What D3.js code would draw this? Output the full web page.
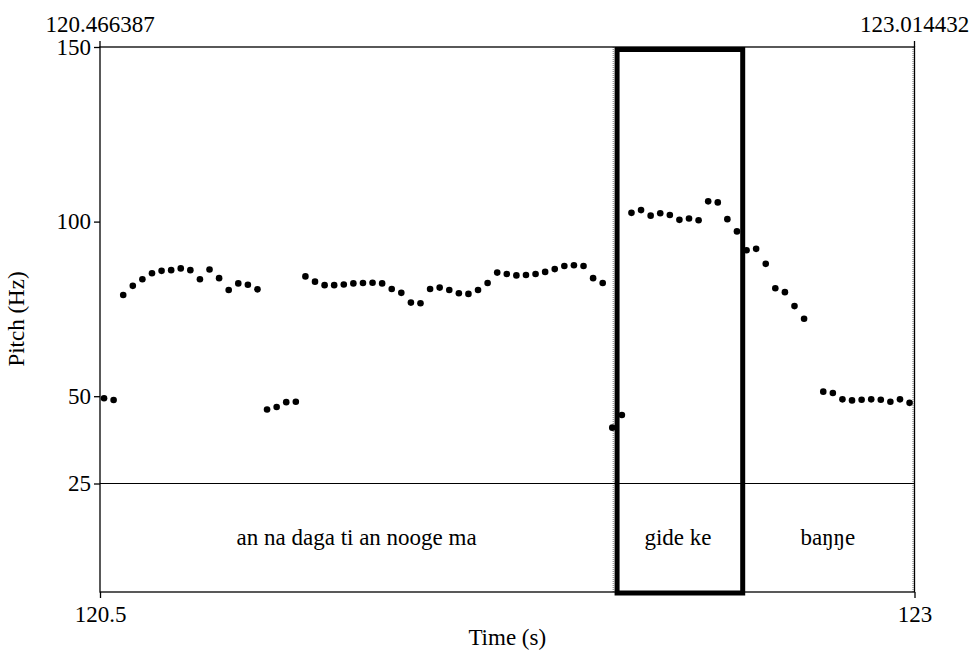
<!DOCTYPE html>
<html>
<head>
<meta charset="utf-8">
<script src="https://cdn.jsdelivr.net/npm/d3@7"></script>
<style>
  html, body { margin: 0; padding: 0; background: #fff; }
  svg { display: block; }
</style>
</head>
<body>
<svg id="chart" width="973" height="653"></svg>
<script>
// Analysis window (seconds)
const windowStart = 120.466387;
const windowEnd = 123.014432;

// Pitch track frames (0.03 s step, unvoiced frames omitted)
const frameTimes = [
  120.479, 120.509, 120.539, 120.569, 120.599, 120.629, 120.659, 120.689, 120.719, 120.749,
  120.779, 120.809, 120.839, 120.869, 120.899, 120.929, 120.959, 120.989, 121.019, 121.049,
  121.079, 121.109, 121.139, 121.169, 121.199, 121.229, 121.259, 121.289, 121.319, 121.349,
  121.379, 121.409, 121.439, 121.469, 121.499, 121.529, 121.559, 121.589, 121.619, 121.649,
  121.679, 121.709, 121.739, 121.769, 121.799, 121.829, 121.859, 121.889, 121.919, 121.949,
  121.979, 122.009, 122.039, 122.069, 122.099, 122.129, 122.159, 122.189, 122.219, 122.249,
  122.279, 122.309, 122.339, 122.369, 122.399, 122.429, 122.459, 122.489, 122.519, 122.549,
  122.579, 122.609, 122.639, 122.669,
  122.729, 122.759, 122.789, 122.819, 122.849, 122.879, 122.909, 122.939, 122.969, 122.999
];
const pitchHz = [
  49.4, 48.9, 79.0, 81.6, 83.5, 85.2, 85.9, 86.1, 86.6, 86.1,
  83.5, 86.3, 83.8, 80.4, 82.3, 81.9, 80.6, 46.2, 46.9, 48.3,
  48.4, 84.3, 82.8, 81.8, 81.8, 82.0, 82.3, 82.4, 82.5, 82.3,
  80.7, 79.6, 76.8, 76.6, 80.7, 81.1, 80.4, 79.5, 79.3, 80.4,
  82.4, 85.4, 85.0, 84.6, 84.7, 85.0, 85.6, 86.4, 87.3, 87.5,
  87.3, 83.8, 82.4, 41.0, 44.6, 102.5, 103.3, 101.7, 102.4, 101.9,
  100.5, 100.9, 100.4, 105.8, 105.5, 100.7, 97.2, 91.8, 92.2, 87.9,
  80.9, 79.8, 75.8, 72.2,
  51.3, 50.9, 49.1, 48.8, 49.0, 49.1, 49.0, 48.4, 49.1, 48.1
];

// Pitch axis
const pitchTicks = [25, 50, 100, 150];
const pitchMin = 25, pitchMax = 150;

// Bottom time axis labels
const timeAxisLabels = [120.5, 123];

// Text tier intervals
const tierLabels = ["an na daga ti an nooge ma", "gide ke", "ba\u014B\u014Be"];
const tierStarts = [120.466387, 122.072, 122.477];
const tierEnds = [122.072, 122.477, 123.0098];

// Highlighted stretch
const highlightStart = 122.084;
const highlightEnd = 122.477;

const serif = "'Liberation Serif'";
const svg = d3.select("#chart");
const plotLeft = 100, plotRight = 914.5, plotTop = 47, plotBottom = 592;
const tierTop = 483.5;
const fontSize = 23;

const x = d3.scaleLinear().domain([windowStart, windowEnd]).range([plotLeft, plotRight]);
const y = d3.scaleLinear().domain([pitchMin, pitchMax]).range([tierTop, plotTop]);
const xAxisScale = d3.scaleLinear().domain([timeAxisLabels[0], timeAxisLabels[1]]).range([plotLeft, plotRight]);

function styleText(sel) {
  sel.attr("font-family", null)
    .style("font-family", serif)
    .style("font-size", fontSize + "px")
    .attr("fill", "#000");
}

// Tier boundaries (dotted)
svg.append("g")
  .selectAll("line")
  .data([tierEnds[0], tierEnds[2]])
  .join("line")
  .attr("x1", d => x(d)).attr("x2", d => x(d))
  .attr("y1", plotTop).attr("y2", plotBottom)
  .attr("stroke", "#888").attr("stroke-width", 1.2)
  .attr("stroke-dasharray", "1,1");

// Frame
svg.append("rect")
  .attr("x", plotLeft).attr("y", plotTop)
  .attr("width", plotRight - plotLeft).attr("height", plotBottom - plotTop)
  .attr("fill", "none").attr("stroke", "#000").attr("stroke-width", 1.3);

// Line separating pitch area from text tier
svg.append("line")
  .attr("x1", plotLeft).attr("x2", plotRight)
  .attr("y1", y(pitchMin)).attr("y2", y(pitchMin))
  .attr("stroke", "#000").attr("stroke-width", 1);

// Left pitch axis
const yAxis = d3.axisLeft(y).tickValues(pitchTicks).tickSize(6).tickPadding(3).tickFormat(d3.format("d"));
const gy = svg.append("g").attr("transform", `translate(${plotLeft},0)`).call(yAxis);
gy.attr("font-family", null).attr("font-size", null);
gy.select(".domain").remove();
gy.selectAll("line").attr("stroke", "#000").attr("stroke-width", 1.3);
gy.selectAll("text").call(styleText);

// Bottom time axis
const xAxis = d3.axisBottom(xAxisScale).tickValues(timeAxisLabels).tickSize(6).tickPadding(8)
  .tickFormat(d => String(d));
const gx = svg.append("g").attr("transform", `translate(0,${plotBottom})`).call(xAxis);
gx.attr("font-family", null).attr("font-size", null);
gx.select(".domain").remove();
gx.selectAll("line").attr("stroke", "#000").attr("stroke-width", 1.3);
gx.selectAll("text").call(styleText);

// Top window edge marks and labels
const topMarks = [windowStart, windowEnd];
svg.append("g")
  .selectAll("line")
  .data(topMarks)
  .join("line")
  .attr("x1", d => x(d)).attr("x2", d => x(d))
  .attr("y1", plotTop - 6).attr("y2", plotTop)
  .attr("stroke", "#000").attr("stroke-width", 1.3);
svg.append("g")
  .selectAll("text")
  .data(topMarks)
  .join("text")
  .attr("x", d => x(d)).attr("y", 32)
  .attr("text-anchor", "middle")
  .call(styleText)
  .text(d => d.toFixed(6));

// Pitch points
svg.append("g")
  .selectAll("circle")
  .data(frameTimes.map((t, i) => ({ t, f: pitchHz[i] })))
  .join("circle")
  .attr("cx", d => x(d.t))
  .attr("cy", d => y(d.f))
  .attr("r", 3.3)
  .attr("fill", "#000");

// Text tier labels
svg.append("g")
  .selectAll("text")
  .data(tierLabels.map((s, i) => ({ s, a: tierStarts[i], b: tierEnds[i] })))
  .join("text")
  .attr("x", d => (x(d.a) + x(d.b)) / 2)
  .attr("y", 545)
  .attr("text-anchor", "middle")
  .call(styleText)
  .text(d => d.s);

// Highlight box
svg.append("rect")
  .attr("x", x(highlightStart)).attr("y", 49.5)
  .attr("width", x(highlightEnd) - x(highlightStart))
  .attr("height", 593 - 49.5)
  .attr("fill", "none").attr("stroke", "#000").attr("stroke-width", 5);

// Axis titles
svg.append("text")
  .attr("x", (plotLeft + plotRight) / 2).attr("y", 645)
  .attr("text-anchor", "middle")
  .call(styleText)
  .text("Time (s)");
svg.append("text")
  .attr("transform", "translate(24,319) rotate(-90)")
  .attr("text-anchor", "middle")
  .call(styleText)
  .text("Pitch (Hz)");
</script>
</body>
</html>
